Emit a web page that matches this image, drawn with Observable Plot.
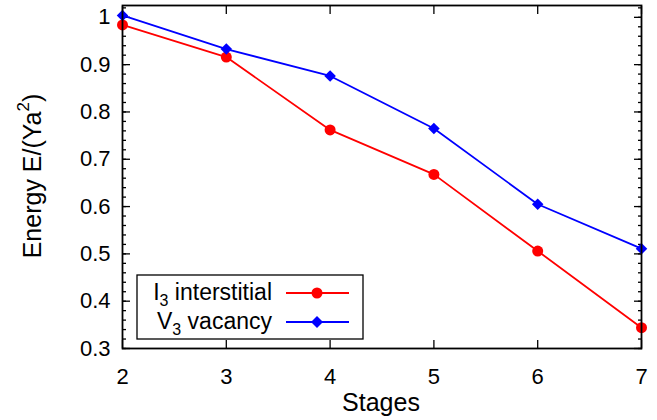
<!DOCTYPE html>
<html>
<head>
<meta charset="utf-8">
<script src="https://cdn.jsdelivr.net/npm/d3@7"></script>
<script src="https://cdn.jsdelivr.net/npm/@observablehq/plot@0.6"></script>
<style>
  body { margin: 0; background: #fff; }
  #wrap { position: relative; width: 657px; height: 420px; font-family: "Liberation Sans", Arial, sans-serif; }
  #wrap svg { display: block; }
  .ylab { position: absolute; left: 32px; top: 176px; transform: translate(-50%, -50%) rotate(-90deg); font-size: 25px; white-space: nowrap; color: #000; }
  .xlab { position: absolute; left: 381px; top: 390px; transform: translateX(-50%); font-size: 25px; white-space: nowrap; color: #000; line-height: 1; }
  .ylab sup { font-size: 17px; position: relative; top: -3px; vertical-align: super; line-height: 0; }
</style>
</head>
<body>
<div id="wrap"></div>
<script>
const stages = [2, 3, 4, 5, 6, 7];
const interstitial = [0.984, 0.916, 0.762, 0.668, 0.506, 0.344];
const vacancy = [1.004, 0.933, 0.876, 0.765, 0.605, 0.511];
const xTicks = [2, 3, 4, 5, 6, 7];
const yTicks = [0.3, 0.4, 0.5, 0.6, 0.7, 0.8, 0.9, 1.0];
const yMinor = d3.range(15, 52).map(i => i * 0.02).filter(v => v <= 1.025);

const rowsI = stages.map((s, i) => ({stage: s, value: interstitial[i]}));
const rowsV = stages.map((s, i) => ({stage: s, value: vacancy[i]}));

const font = "Liberation Sans, Arial, sans-serif";
const fmt = d => d3.format("~g")(+d.toFixed(2));

const chart = Plot.plot({
  width: 657,
  height: 420,
  marginLeft: 122,
  marginRight: 16,
  marginTop: 5,
  marginBottom: 72,
  style: {fontFamily: font, fontSize: "22px", color: "#000", background: "#fff"},
  x: {domain: [2, 7], label: null},
  y: {domain: [0.3, 1.025], label: null},
  marks: [
    Plot.axisX({anchor: "bottom", ticks: xTicks, tickSize: 0, tickPadding: 20, label: null, tickFormat: d => String(d), fontSize: 22}),
    Plot.axisY({anchor: "left", ticks: yTicks, tickSize: 0, tickPadding: 12, label: null, tickFormat: fmt, fontSize: 22}),
    Plot.axisX({anchor: "bottom", ticks: xTicks, tickSize: -8, text: null, label: null, strokeWidth: 1.3}),
    Plot.axisX({anchor: "top", ticks: xTicks, tickSize: -8, text: null, label: null, strokeWidth: 1.3}),
    Plot.axisY({anchor: "left", ticks: yTicks, tickSize: -8, text: null, label: null, strokeWidth: 1.3}),
    Plot.axisY({anchor: "right", ticks: yTicks, tickSize: -8, text: null, label: null, strokeWidth: 1.3}),
    Plot.axisY({anchor: "left", ticks: yMinor, tickSize: -4, text: null, label: null, strokeWidth: 1.3}),
    Plot.axisY({anchor: "right", ticks: yMinor, tickSize: -4, text: null, label: null, strokeWidth: 1.3}),
    Plot.line(rowsI, {x: "stage", y: "value", stroke: "#ff0000", strokeWidth: 1.8}),
    Plot.line(rowsV, {x: "stage", y: "value", stroke: "#0000ff", strokeWidth: 1.8}),
    Plot.dot(rowsI, {x: "stage", y: "value", fill: "#ff0000", r: 5.5, symbol: "circle"}),
    Plot.dot(rowsV, {x: "stage", y: "value", fill: "#0000ff", r: 4.6, symbol: "square", rotate: 45}),
    Plot.frame({stroke: "#000", strokeWidth: 1.8})
  ]
});

const wrap = document.getElementById("wrap");
wrap.appendChild(chart);

const ylab = document.createElement("div");
ylab.className = "ylab";
ylab.innerHTML = "Energy E/(Ya<sup>2</sup>)";
wrap.appendChild(ylab);

const xlab = document.createElement("div");
xlab.className = "xlab";
xlab.textContent = "Stages";
wrap.appendChild(xlab);

const ns = "http://www.w3.org/2000/svg";
const leg = document.createElementNS(ns, "svg");
leg.setAttribute("width", 228);
leg.setAttribute("height", 66);
leg.style.position = "absolute";
leg.style.left = "136px";
leg.style.top = "274px";
leg.style.fontFamily = font;
const box = document.createElementNS(ns, "rect");
box.setAttribute("x", 1); box.setAttribute("y", 1);
box.setAttribute("width", 226); box.setAttribute("height", 64);
box.setAttribute("fill", "#fff"); box.setAttribute("stroke", "#000"); box.setAttribute("stroke-width", 1.3);
leg.appendChild(box);
const entries = [
  {main: "I", sub: "3", rest: " interstitial", color: "#ff0000", shape: "circle", y: 19},
  {main: "V", sub: "3", rest: " vacancy", color: "#0000ff", shape: "diamond", y: 48}
];
entries.forEach(e => {
  const t = document.createElementNS(ns, "text");
  t.setAttribute("x", 136); t.setAttribute("y", e.y + 7);
  t.setAttribute("text-anchor", "end");
  t.setAttribute("font-size", 23);
  const a = document.createElementNS(ns, "tspan"); a.textContent = e.main; t.appendChild(a);
  const b = document.createElementNS(ns, "tspan"); b.textContent = e.sub; b.setAttribute("font-size", 16); b.setAttribute("dy", 6); t.appendChild(b);
  const c = document.createElementNS(ns, "tspan"); c.textContent = e.rest; c.setAttribute("dy", -6); t.appendChild(c);
  leg.appendChild(t);
  const l = document.createElementNS(ns, "line");
  l.setAttribute("x1", 150); l.setAttribute("x2", 213);
  l.setAttribute("y1", e.y); l.setAttribute("y2", e.y);
  l.setAttribute("stroke", e.color); l.setAttribute("stroke-width", 1.8);
  leg.appendChild(l);
  if (e.shape === "circle") {
    const m = document.createElementNS(ns, "circle");
    m.setAttribute("cx", 181); m.setAttribute("cy", e.y); m.setAttribute("r", 5.5); m.setAttribute("fill", e.color);
    leg.appendChild(m);
  } else {
    const m = document.createElementNS(ns, "path");
    m.setAttribute("d", `M181,${e.y-6}L187,${e.y}L181,${e.y+6}L175,${e.y}Z`);
    m.setAttribute("fill", e.color);
    leg.appendChild(m);
  }
});
wrap.appendChild(leg);
</script>
</body>
</html>
